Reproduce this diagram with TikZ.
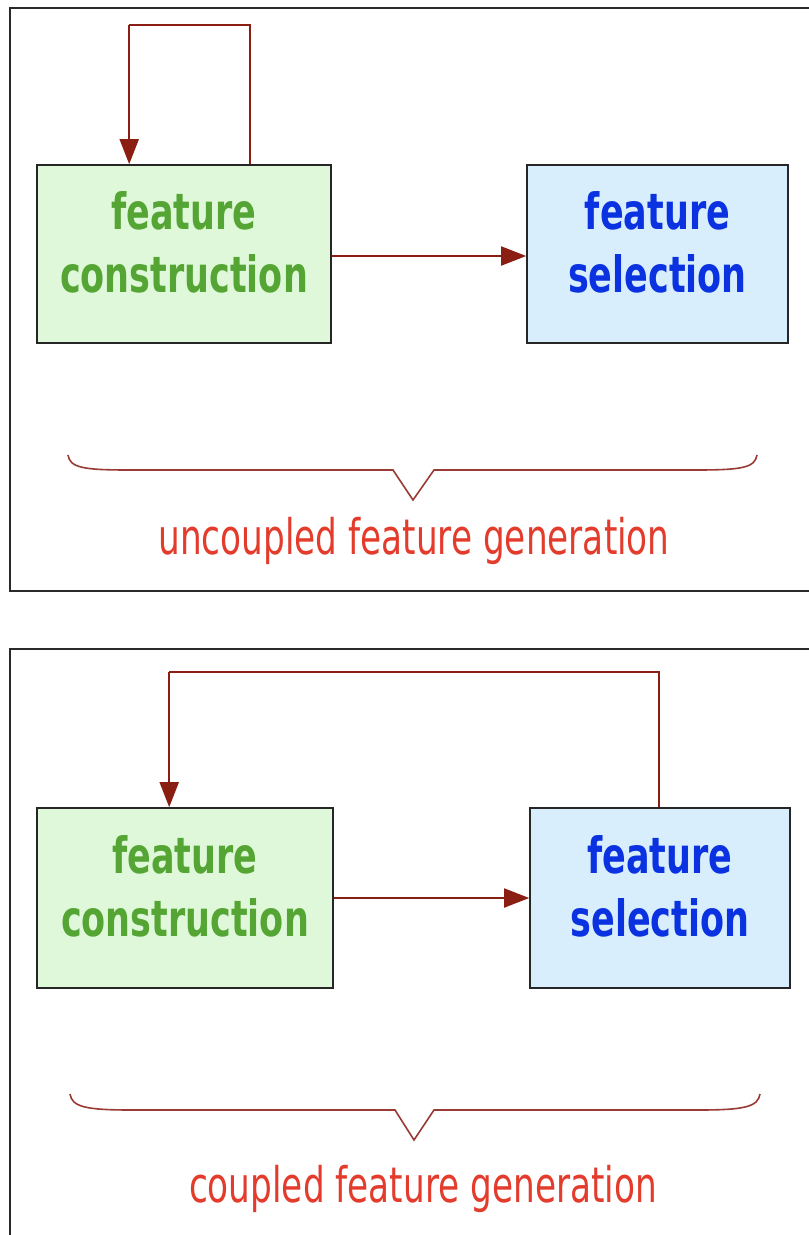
\documentclass[tikz,border=0pt]{standalone}
\usepackage{fontspec}
\setmainfont{DejaVu Sans}[FakeStretch=0.7]
\usetikzlibrary{arrows.meta}
\definecolor{cgfill}{HTML}{E0F8DA}
\definecolor{cgtext}{HTML}{55A535}
\definecolor{cbfill}{HTML}{D8EEFC}
\definecolor{cbtext}{HTML}{0A32E0}
\definecolor{carrow}{HTML}{8B1E12}
\definecolor{cbrace}{HTML}{9A3A35}
\definecolor{clabel}{HTML}{E33B2C}
\definecolor{cframe}{HTML}{2A2A2A}
% extra depth below the last line, lifts the two-line box text a little
\newcommand{\boxlift}{\rule[-24pt]{0pt}{24pt}}
\tikzset{
  frame/.style={draw=cframe, line width=2pt},
  boxbase/.style={draw=black!85, line width=1.6pt, inner sep=0pt, align=center,
    font=\bfseries\fontsize{50}{63}\selectfont},
  greenbox/.style={boxbase, fill=cgfill, text=cgtext},
  bluebox/.style={boxbase, fill=cbfill, text=cbtext},
  conn/.style={draw=carrow, line width=1.8pt,
    -{Triangle[length=25pt, width=19pt, fill=carrow]}},
  loopline/.style={draw=carrow, line width=1.5pt},
  bracepath/.style={draw=cbrace, line width=1.6pt, line join=miter},
  caption/.style={text=clabel, font=\fontsize{49}{60}\selectfont, inner sep=0pt}
}
\begin{document}
\begin{tikzpicture}[x=1pt, y=-1pt]
\useasboundingbox (0,0) rectangle (809,1235);

% ---- uncoupled scheme ----
\draw[frame] (815,8) -| (10,591) -- (815,591);
\node[greenbox, minimum width=294pt, minimum height=178pt] (gA) at (184,254)
  {feature\\construction\boxlift};
\node[bluebox, minimum width=261pt, minimum height=178pt] (bA) at (657.5,254)
  {feature\\selection\boxlift};
\draw[conn] (gA.east |- 0,256) -- (bA.west |- 0,256);
\draw[loopline] ([xshift=214pt]gA.north west) -- ++(0,-139) -| ++(-121,0) coordinate (lA);
\draw[conn] (lA) -- ([xshift=93pt]gA.north west);
\draw[bracepath] (68,455) .. controls (70,468) and (84,470) .. (130,470)
  -- (393,470) -- (413,500) -- (434,470) -- (695,470)
  .. controls (741,470) and (755,468) .. (757,455);
\node[caption] (cA) at (414,541) {uncoupled feature generation};

% ---- coupled scheme ----
\draw[frame] (815,649) -| (10,1245);
\node[greenbox, minimum width=296pt, minimum height=180pt] (gB) at (185,898)
  {feature\\construction\boxlift};
\node[bluebox, minimum width=260pt, minimum height=180pt] (bB) at (660,898)
  {feature\\selection\boxlift};
\draw[conn] (gB.east |- 0,898) -- (bB.west |- 0,898);
\draw[loopline] ([xshift=130pt]bB.north west) -- ++(0,-135) -| ++(-490,0) coordinate (lB);
\draw[conn] (lB) -- ([xshift=133pt]gB.north west);
\draw[bracepath] (70,1094) .. controls (72,1107) and (86,1110) .. (132,1110)
  -- (395,1110) -- (414,1140) -- (434,1110) -- (698,1110)
  .. controls (744,1110) and (758,1107) .. (760,1094);
\node[caption] (cB) at (423,1189) {coupled feature generation};
\end{tikzpicture}
\end{document}
